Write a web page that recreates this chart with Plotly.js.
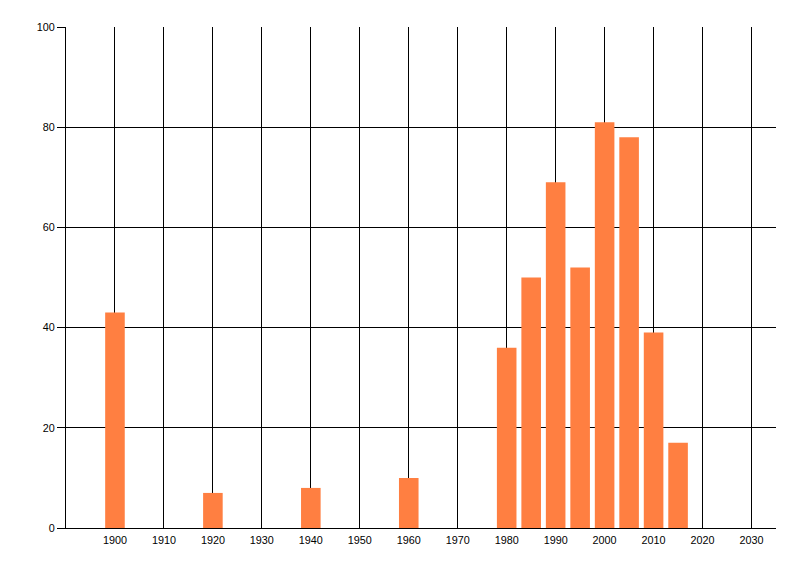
<!DOCTYPE html>
<html>
<head>
<meta charset="utf-8">
<script src="https://cdn.plot.ly/plotly-3.0.1.min.js"></script>
<style>html,body{margin:0;padding:0;background:#fff;}#chart{width:800px;height:576px;}</style>
</head>
<body>
<div id="chart"></div>
<script>
var years = [1900, 1920, 1940, 1960, 1980, 1985, 1990, 1995, 2000, 2005, 2010, 2015];
var counts = [43, 7, 8, 10, 36, 50, 69, 52, 81, 78, 39, 17];
var xTicks = [1900, 1910, 1920, 1930, 1940, 1950, 1960, 1970, 1980, 1990, 2000, 2010, 2020, 2030];
var yTicks = [0, 20, 40, 60, 80, 100];

var trace = {
  type: 'bar',
  x: years,
  y: counts,
  width: 4,
  marker: {color: '#FF7F41', line: {width: 0}},
  hoverinfo: 'x+y'
};

var font = {family: 'Liberation Sans, Arial, sans-serif', size: 10.8, color: '#000'};

var layout = {
  width: 800,
  height: 576,
  margin: {l: 66, r: 24, t: 27, b: 48, pad: 0},
  paper_bgcolor: '#fff',
  plot_bgcolor: '#fff',
  showlegend: false,
  font: font,
  xaxis: {
    range: [1890, 2035],
    tickvals: xTicks,
    ticktext: xTicks.map(String),
    showgrid: true,
    gridcolor: '#000',
    gridwidth: 1,
    showline: true,
    linecolor: '#000',
    linewidth: 1,
    ticks: 'outside',
    ticklen: 2,
    tickcolor: 'rgba(0,0,0,0)',
    zeroline: false,
    tickfont: font,
    fixedrange: true
  },
  yaxis: {
    range: [0, 100],
    tickvals: yTicks,
    ticktext: yTicks.map(String),
    showgrid: true,
    gridcolor: '#000',
    gridwidth: 1,
    showline: true,
    linecolor: '#000',
    linewidth: 1,
    ticks: 'outside',
    ticklen: 8,
    tickcolor: '#000',
    tickwidth: 1,
    zeroline: false,
    tickfont: font,
    fixedrange: true
  }
};

Plotly.newPlot('chart', [trace], layout, {displayModeBar: false, staticPlot: true});
</script>
</body>
</html>
